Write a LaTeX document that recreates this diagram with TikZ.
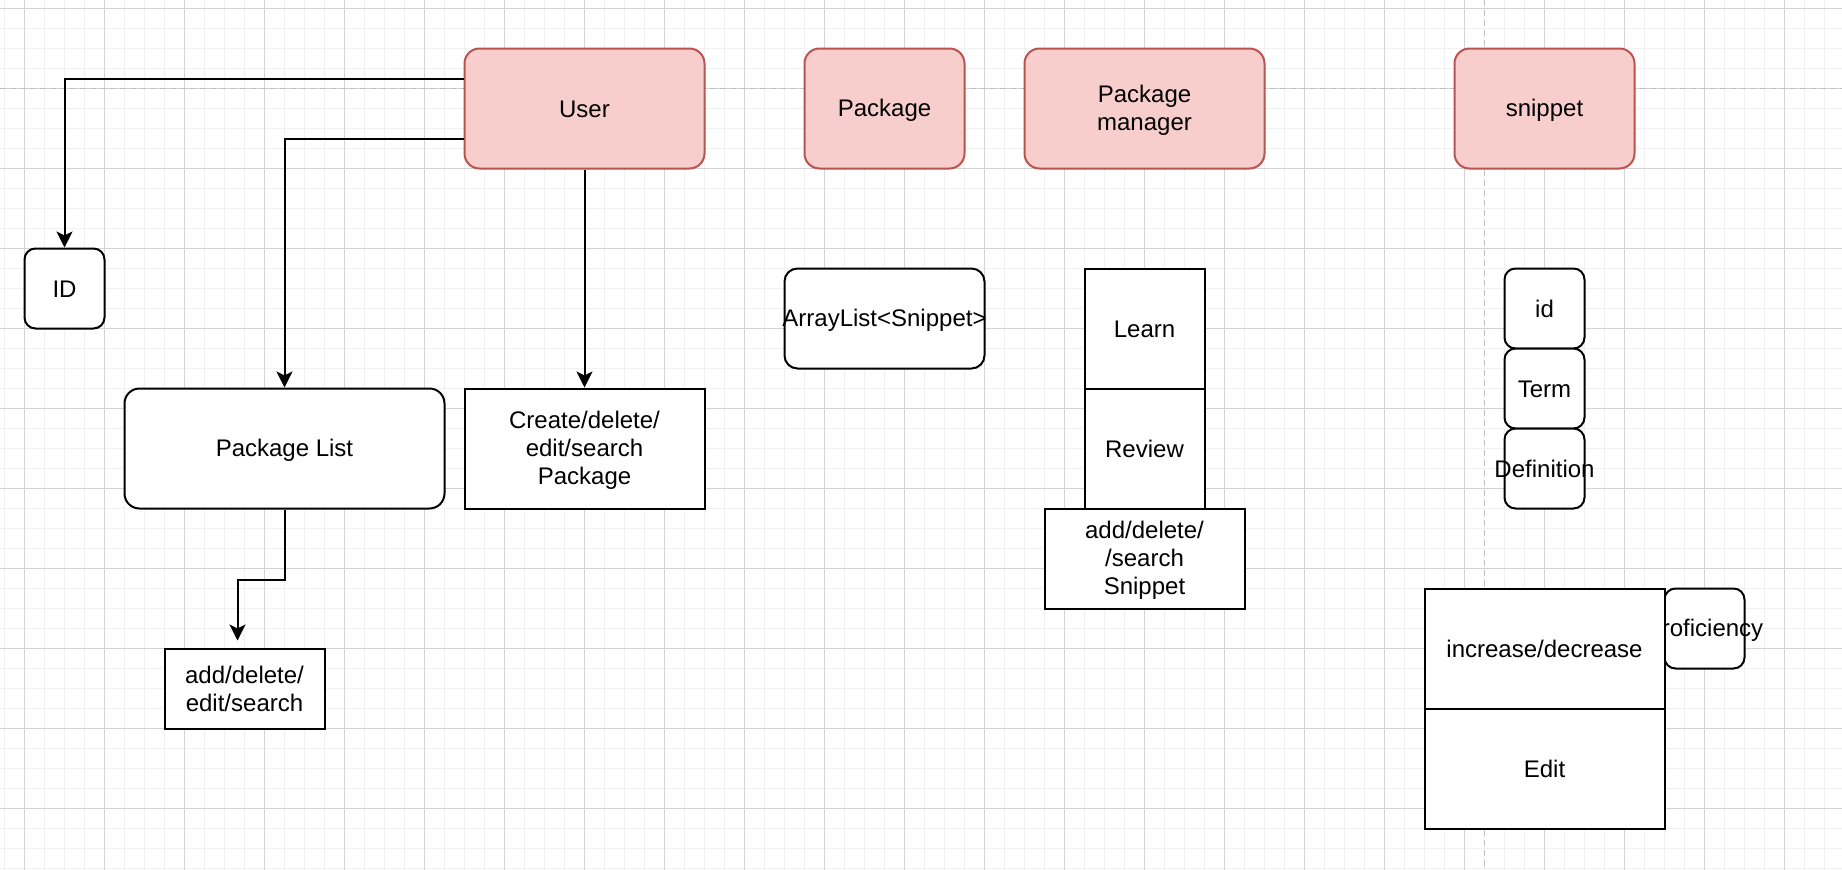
\documentclass[tikz,border=0pt]{standalone}
\usepackage{fontspec}
\setmainfont{Liberation Sans}
\usetikzlibrary{arrows.meta}

\definecolor{pinkfill}{HTML}{F8CECC}
\definecolor{pinkline}{HTML}{B85450}
\definecolor{gridminor}{HTML}{F1F1F1}
\definecolor{gridmajor}{HTML}{D3D3D3}
\definecolor{pagebreak}{HTML}{C0C0C0}

% strut for even vertical centring of the labels
\newcommand\labstrut{\rule[-2pt]{0pt}{22pt}}

\tikzset{
  box/.style={draw, line width=2pt, fill=white, inner sep=0pt, align=center,
    font=\fontsize{24}{28}\selectfont,
    execute at begin node=\labstrut, execute at end node=\labstrut},
  lines/.style={text width=#1},
  roundbox/.style={box, rounded corners=11pt},
  pinkbox/.style={box, rounded corners=15pt, fill=pinkfill, draw=pinkline},
  arr/.style={line width=2pt, -{Stealth[length=16pt,width=16pt,inset=4pt]}},
}

\begin{document}
\begin{tikzpicture}[x=20pt, y=-20pt]

% Canvas and grid
\useasboundingbox[fill=white] (-1.225,-0.425) rectangle (90.875,43.075);
\draw[gridminor, line width=1.5pt, step=20pt] (-1.225,-0.425) grid (90.875,43.075);
\draw[gridmajor, line width=1pt, step=80pt] (-1.225,-0.425) grid (90.875,43.075);

% Page break lines
\draw[pagebreak, line width=1.5pt, dash pattern=on 6pt off 4pt] (-1.225,4) -- (90.875,4);
\draw[pagebreak, line width=1.5pt, dash pattern=on 6pt off 4pt] (73,-0.425) -- (73,43.075);

% Top row - classes
\node[pinkbox, minimum width=240pt, minimum height=120pt] (user) at (28,5) {User};
\node[pinkbox, minimum width=160pt, minimum height=120pt] (pkg) at (43,5) {Package};
\node[pinkbox, lines=220pt, minimum width=240pt, minimum height=120pt] (pkgmgr) at (56,5) {Package\\manager};
\node[pinkbox, minimum width=180pt, minimum height=120pt] (snippet) at (76,5) {snippet};

% User column
\node[roundbox, minimum width=80pt, minimum height=80pt] (userid) at (2,14) {ID};
\node[roundbox, rounded corners=15pt, minimum width=320pt, minimum height=120pt] (pkglist) at (13,22) {Package List};
\node[box, lines=220pt, minimum width=240pt, minimum height=120pt] (crud) at (28,22) {Create/delete/\\edit/search\\Package};
\node[box, lines=150pt, minimum width=160pt, minimum height=80pt] (listops) at (11,34) {add/delete/\\edit/search};
\coordinate (listend) at (10.65,31.6);

% Package column
\node[roundbox, rounded corners=13pt, minimum width=200pt, minimum height=100pt] (arraylist) at (43,15.5) {\makebox[0pt]{ArrayList\textless Snippet\textgreater}};

% Package manager column
\node[box, minimum width=120pt, minimum height=120pt] (learn) at (56,16) {Learn};
\node[box, minimum width=120pt, minimum height=120pt] (review) at (56,22) {Review};
\node[box, lines=180pt, minimum width=200pt, minimum height=100pt] (snipops) at (56,27.5) {add/delete/\\/search\\Snippet};

% Snippet column
\node[roundbox, minimum width=80pt, minimum height=80pt] (snipid) at (76,15) {id};
\node[roundbox, minimum width=80pt, minimum height=80pt] (term) at (76,19) {Term};
\node[roundbox, minimum width=80pt, minimum height=80pt] (definition) at (76,23) {\makebox[0pt]{Definition}};
\node[roundbox, minimum width=80pt, minimum height=80pt] (proficiency) at (84,31) {\makebox[0pt]{Proficiency}};
\node[box, minimum width=240pt, minimum height=120pt] (incdec) at (76,32) {increase/decrease};
\node[box, minimum width=240pt, minimum height=120pt] (edit) at (76,38) {Edit};

% Connectors
\draw[arr] ([yshift=30pt]user.west) -| (userid.north);
\draw[arr] ([yshift=-30pt]user.west) -| (pkglist.north);
\draw[arr] (user.south) -- (crud.north);
\draw[arr] (pkglist.south) -- ++(0,3.5) -| (listend);

\end{tikzpicture}
\end{document}
